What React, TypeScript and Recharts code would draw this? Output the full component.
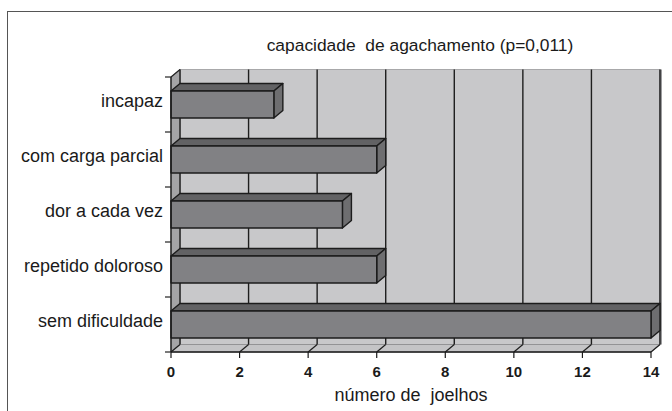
import React from "react";
import {
  Bar,
  BarChart,
  CartesianGrid,
  ReferenceArea,
  XAxis,
  YAxis,
} from "recharts";

const categorias = [
  "incapaz",
  "com carga parcial",
  "dor a cada vez",
  "repetido doloroso",
  "sem dificuldade",
];
const joelhos = [3, 6, 5, 6, 14];
const xTicks = [0, 2, 4, 6, 8, 10, 12, 14];

const data = categorias.map((categoria, i) => ({ categoria, joelhos: joelhos[i] }));

// 3d depth offset (Excel-like)
const DX = 9;
const DY = 7.5;
const FONT = "'Liberation Sans', Arial, sans-serif";

function Walls(props: any) {
  const { x, y, width, height } = props;
  const b = y + height;
  return (
    <g>
      <rect x={x + DX} y={y - DY} width={width} height={height} fill="#c8c8ca" stroke="#9a9a9c" strokeWidth={0.8} />
      <rect x={x + width + DX - 1} y={y - DY} width={3} height={height} fill="#9c9c9e" />
      <polygon
        points={`${x},${y} ${x + DX},${y - DY} ${x + DX},${b - DY} ${x},${b}`}
        fill="#a4a4a6"
        stroke="#8a8a8c"
        strokeWidth={0.8}
      />
      <line x1={x} y1={y} x2={x + DX} y2={y - DY} stroke="#222" strokeWidth={1.2} />
      <polygon
        points={`${x},${b} ${x + DX},${b - DY} ${x + width + DX},${b - DY} ${x + width},${b}`}
        fill="#c4c4c6"
        stroke="#8a8a8c"
        strokeWidth={0.8}
      />
    </g>
  );
}

function GridLine(props: any) {
  const { x1, y1, y2 } = props;
  return (
    <g key={`v-${x1}`}>
      <line x1={x1 + DX} y1={y1 - DY} x2={x1 + DX} y2={y2 - DY} stroke="#1e1e1e" strokeWidth={1.4} />
      <line x1={x1} y1={y2} x2={x1 + DX} y2={y2 - DY} stroke="#1e1e1e" strokeWidth={1.2} />
    </g>
  );
}

function Bar3D(props: any) {
  const { x, y, width, height } = props;
  if (!width || width <= 0) return null;
  const r = x + width;
  const b = y + height;
  return (
    <g stroke="#1c1c1c" strokeWidth={1.4} strokeLinejoin="round">
      <polygon points={`${x},${y} ${x + DX},${y - DY} ${r + DX},${y - DY} ${r},${y}`} fill="#626264" />
      <polygon points={`${r},${y} ${r + DX},${y - DY} ${r + DX},${b - DY} ${r},${b}`} fill="#6e6e70" />
      <rect x={x} y={y} width={width} height={height} fill="#818184" />
    </g>
  );
}

function CategoryTick(props: any) {
  const { x, y, payload, index, visibleTicksCount } = props;
  const half = payload && payload.offset ? payload.offset : 27.5;
  const last = index === (visibleTicksCount ?? categorias.length) - 1;
  return (
    <g>
      <line x1={x + 2} y1={y - half} x2={x + 8} y2={y - half} stroke="#222" strokeWidth={1.2} />
      {last ? <line x1={x + 2} y1={y + half} x2={x + 8} y2={y + half} stroke="#222" strokeWidth={1.2} /> : null}
      <text x={x} y={y - 4} dy="0.36em" textAnchor="end" fontSize={18} fontFamily={FONT} fill="#1a1a1a">
        {payload.value}
      </text>
    </g>
  );
}

export default function App() {
  return (
    <div
      style={{
        position: "absolute",
        left: 0,
        top: 0,
        width: 672,
        height: 411,
        overflow: "hidden",
        background: "#fff",
        fontFamily: FONT,
      }}
    >
      <div
        style={{
          position: "absolute",
          left: 7,
          top: 11,
          width: 690,
          height: 450,
          border: "1.5px solid #555",
        }}
      />
      <div
        style={{
          position: "absolute",
          left: 220,
          top: 35,
          width: 400,
          textAlign: "center",
          fontSize: 17.4,
          lineHeight: "20px",
          whiteSpace: "pre",
          color: "#1a1a1a",
        }}
      >
        capacidade  de agachamento (p=0,011)
      </div>
      <div style={{ position: "absolute", left: 0, top: 0 }}>
        <BarChart
          width={672}
          height={411}
          data={data}
          layout="vertical"
          margin={{ top: 77, right: 21, bottom: 10, left: 0 }}
          barSize={27}
        >
          <ReferenceArea x1={0} x2={14} shape={<Walls />} zIndex={-150} ifOverflow="visible" />
          <CartesianGrid horizontal={false} vertical={GridLine} fill="none" />
          <XAxis
            type="number"
            domain={[0, 14]}
            ticks={xTicks}
            height={49}
            tickSize={6}
            tickMargin={8}
            tick={{ fontSize: 15, fontWeight: "bold", fill: "#1a1a1a", fontFamily: FONT }}
            axisLine={{ stroke: "#1a1a1a", strokeWidth: 1.4 }}
            tickLine={{ stroke: "#1a1a1a", strokeWidth: 1.2 }}
            label={{
              value: "número de\u00a0 joelhos",
              position: "insideBottom",
              offset: 0,
              fontSize: 18,
              fill: "#1a1a1a",
              fontFamily: FONT,
            }}
          />
          <YAxis
            type="category"
            dataKey="categoria"
            width={171}
            tickLine={false}
            tick={<CategoryTick />}
            axisLine={{ stroke: "#1a1a1a", strokeWidth: 1.4 }}
          />
          <Bar dataKey="joelhos" shape={<Bar3D />} isAnimationActive={false} />
        </BarChart>
      </div>
    </div>
  );
}
